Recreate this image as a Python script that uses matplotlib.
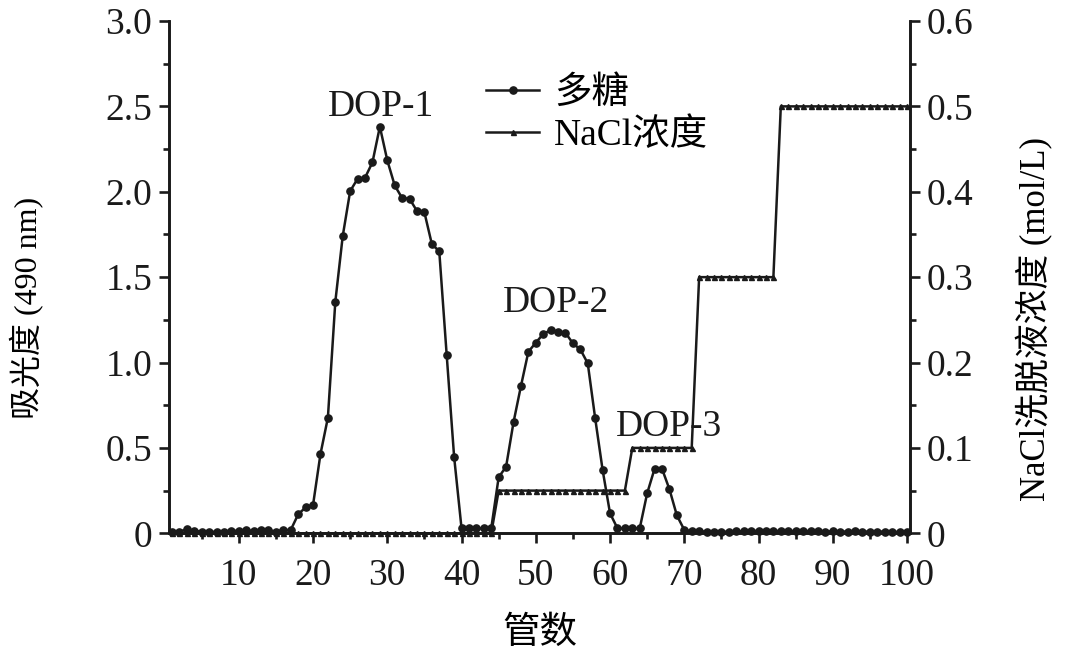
import matplotlib
matplotlib.use("Agg")
import matplotlib.pyplot as plt
from matplotlib.ticker import MultipleLocator, FuncFormatter
import numpy as np

plt.rcParams['font.family'] = ['Liberation Serif', 'Noto Sans CJK SC']
plt.rcParams['axes.unicode_minus'] = False

tubes = list(range(1, 101))
polysaccharide = [
    0.010, 0.010, 0.023, 0.015, 0.010, 0.006, 0.010, 0.010, 0.014, 0.015,
    0.018, 0.014, 0.020, 0.018, 0.010, 0.018, 0.020, 0.111, 0.152, 0.166,
    0.464, 0.677, 1.356, 1.741, 2.004, 2.076, 2.082, 2.172, 2.381, 2.184,
    2.037, 1.963, 1.959, 1.887, 1.879, 1.694, 1.651, 1.044, 0.448, 0.029,
    0.029, 0.029, 0.029, 0.029, 0.328, 0.390, 0.650, 0.862, 1.063, 1.116,
    1.167, 1.190, 1.180, 1.174, 1.112, 1.077, 0.995, 0.673, 0.371, 0.117,
    0.029, 0.029, 0.029, 0.029, 0.234, 0.378, 0.378, 0.258, 0.105, 0.020,
    0.012, 0.012, 0.010, 0.008, 0.008, 0.010, 0.012, 0.012, 0.014, 0.014,
    0.014, 0.013, 0.014, 0.014, 0.013, 0.014, 0.012, 0.014, 0.010, 0.012,
    0.010, 0.010, 0.012, 0.010, 0.010, 0.010, 0.010, 0.008, 0.008, 0.008,
]
nacl = [0.0] * 44 + [0.05] * 18 + [0.1] * 9 + [0.3] * 11 + [0.5] * 18

peak_labels = ["DOP-1", "DOP-2", "DOP-3"]
peak_pos = [(29.1, 2.50), (52.7, 1.35), (67.9, 0.625)]

legend_labels = ["多糖", "NaCl浓度"]
xlabel = "管数"
ylabel_left = "吸光度 (490 nm)"
ylabel_right = "NaCl洗脱液浓度 (mol/L)"

FS = 27
lw_axis = 1.9
INK = '#1a1a1a'

fig = plt.figure(figsize=(10.8, 6.54), dpi=100)
ax = fig.add_axes([169/1080, 1-533.3/654, (910-169)/1080, (533.3-21)/654])
ax2 = ax.twinx()

l1, = ax.plot(tubes, polysaccharide, color=INK, lw=1.8, marker='o',
              markersize=5.2, label=legend_labels[0], clip_on=False, zorder=3)
l2, = ax2.plot(tubes, nacl, color=INK, lw=1.8, marker='^',
               markersize=3.6, label=legend_labels[1], clip_on=False, zorder=3)

ax.set_xlim(0.6, 100.4)
ax.set_ylim(0, 3.0)
ax2.set_ylim(0, 0.6)

ax.xaxis.set_major_locator(MultipleLocator(10))
ax.xaxis.set_minor_locator(MultipleLocator(5))
ax.yaxis.set_major_locator(MultipleLocator(0.5))
ax.yaxis.set_minor_locator(MultipleLocator(0.25))
ax2.yaxis.set_major_locator(MultipleLocator(0.1))
ax2.yaxis.set_minor_locator(MultipleLocator(0.05))

fmt = FuncFormatter(lambda v, p: '0' if abs(v) < 1e-9 else f'{v:.1f}')
ax.yaxis.set_major_formatter(fmt)
ax2.yaxis.set_major_formatter(fmt)
ax.xaxis.set_major_formatter(FuncFormatter(lambda v, p: '' if abs(v) < 1e-9 else f'{int(round(v))}'))

for a in (ax, ax2):
    a.spines['top'].set_visible(False)
    for s in a.spines.values():
        s.set_linewidth(lw_axis)
        s.set_color(INK)
    a.tick_params(which='major', direction='out', length=7, width=lw_axis,
                  labelsize=FS, colors=INK, pad=5)
    a.tick_params(which='minor', direction='out', length=4, width=lw_axis,
                  colors=INK)
ax.tick_params(axis='x', which='major', pad=11)

ax.set_xlabel(xlabel, fontsize=FS, labelpad=17)
ax.set_ylabel(ylabel_left, fontsize=23)
ax2.set_ylabel(ylabel_right, fontsize=25, rotation=90)
ax.yaxis.set_label_coords(-0.168, 0.44)
ax2.yaxis.set_label_coords(1.143, 0.418)

for txt, (x, y) in zip(peak_labels, peak_pos):
    ax.text(x, y, txt, fontsize=FS, ha='center', va='center', color=INK)

leg = ax2.legend(handles=[l1, l2], loc='upper left',
                 bbox_to_anchor=(486/1080, 1-76/654), bbox_transform=fig.transFigure,
                 frameon=False, fontsize=FS, handlelength=1.42, handletextpad=0.4,
                 labelspacing=0.2, borderpad=0, borderaxespad=0)

fig.savefig("out.png", dpi=100)
